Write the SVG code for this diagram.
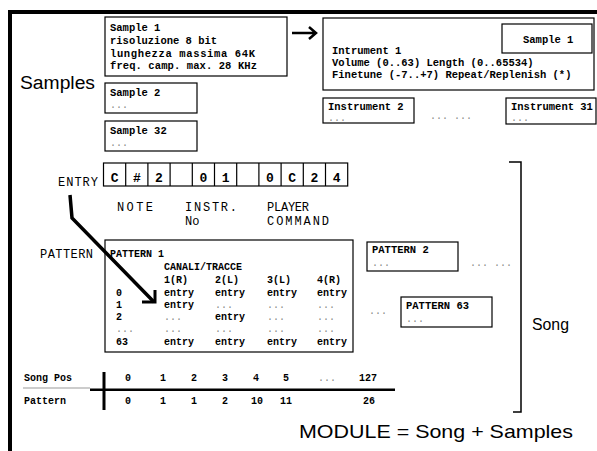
<svg xmlns="http://www.w3.org/2000/svg" width="597" height="451" viewBox="0 0 597 451">
<style>
.box{fill:none;stroke:#000;stroke-width:1.2}
.bt{font-family:"Liberation Mono",monospace;font-weight:bold;font-size:10.5px;fill:#000}
.pt{font-family:"Liberation Mono",monospace;font-weight:bold;font-size:10px;fill:#000}
.dt{font-family:"Liberation Mono",monospace;font-size:10px;fill:#888}
.lab{font-family:"Liberation Mono",monospace;font-size:12px;fill:#000}
.cell{font-family:"Liberation Mono",monospace;font-weight:bold;font-size:13px;fill:#000;text-anchor:middle}
.big{font-family:"Liberation Sans",Arial,sans-serif;fill:#000}
.num{font-family:"Liberation Mono",monospace;font-weight:bold;font-size:10px;fill:#000;text-anchor:middle}
</style>
<rect width="597" height="451" fill="#fff"/>
<g id="frame">
<rect x="9" y="10" width="588" height="4" fill="#000"/>
<rect x="8" y="10" width="4" height="441" fill="#000"/>
</g>
<text class="big" x="20" y="89" font-size="18" textLength="75" lengthAdjust="spacingAndGlyphs">Samples</text>
<g id="sample1">
<rect class="box" x="105" y="17" width="182" height="59"/>
<text class="bt" x="110" y="31">Sample 1</text>
<text class="bt" x="110" y="44">risoluzione 8 bit</text>
<text class="bt" x="110" y="57" textLength="145">lunghezza massima 64K</text>
<text class="bt" x="110" y="69" textLength="147">freq. camp. max. 28 KHz</text>
</g>
<g id="sample2">
<rect class="box" x="105" y="83" width="92" height="30"/>
<text class="bt" x="110" y="96">Sample 2</text>
<text class="dt" x="110" y="108">...</text>
</g>
<g id="sample32">
<rect class="box" x="105" y="121" width="92" height="30"/>
<text class="bt" x="110" y="134">Sample 32</text>
<text class="dt" x="110" y="146">...</text>
</g>
<g id="instrument1">
<rect class="box" x="323" y="18" width="271" height="72"/>
<rect class="box" x="502" y="24" width="90" height="29"/>
<text class="bt" x="523" y="43">Sample 1</text>
<text class="bt" x="332" y="54">Intrument 1</text>
<text class="bt" x="332" y="66">Volume (0..63) Length (0..65534)</text>
<text class="bt" x="332" y="78">Finetune (-7..+7) Repeat/Replenish (*)</text>
</g>
<g id="instrument2">
<rect class="box" x="323" y="98" width="91" height="25"/>
<text class="bt" x="328" y="110">Instrument 2</text>
<text class="dt" x="328" y="121">...</text>
</g>
<text class="dt" x="430" y="119">... ...</text>
<g id="instrument31">
<rect class="box" x="506" y="98" width="90" height="26"/>
<text class="bt" x="511" y="110">Instrument 31</text>
<text class="dt" x="511" y="121">...</text>
</g>
<g id="entry">
<text class="lab" x="58" y="186" textLength="40">ENTRY</text>
<g class="box">
<rect x="103.5" y="163" width="244.2" height="23"/>
<path d="M125.7 163V186M147.9 163V186M170.1 163V186M192.3 163V186M214.5 163V186M236.7 163V186M258.9 163V186M281.1 163V186M303.3 163V186M325.5 163V186"/>
</g>
<text class="cell" x="114.6" y="182">C</text>
<text class="cell" x="136.8" y="182">#</text>
<text class="cell" x="159" y="182">2</text>
<text class="cell" x="203.4" y="182">0</text>
<text class="cell" x="225.6" y="182">1</text>
<text class="cell" x="270" y="182">0</text>
<text class="cell" x="292.2" y="182">C</text>
<text class="cell" x="314.4" y="182">2</text>
<text class="cell" x="336.6" y="182">4</text>
<text class="lab" x="117" y="211" font-size="11" textLength="36">NOTE</text>
<text class="lab" x="185" y="211" font-size="11" textLength="52">INSTR.</text>
<text class="lab" x="185" y="225" font-size="11">No</text>
<text class="lab" x="267" y="211" font-size="11" textLength="42">PLAYER</text>
<text class="lab" x="267" y="225" font-size="11" textLength="62">COMMAND</text>
</g>
<text class="lab" x="40" y="258" textLength="53">PATTERN</text>
<g id="pattern1">
<rect class="box" x="105" y="240" width="248" height="112"/>
<text class="pt" x="110" y="257">PATTERN 1</text>
<text class="pt" x="164" y="270" textLength="78">CANALI/TRACCE</text>
<text class="pt" x="164" y="283">1(R)</text>
<text class="pt" x="215" y="283">2(L)</text>
<text class="pt" x="267" y="283">3(L)</text>
<text class="pt" x="317" y="283">4(R)</text>
<text class="pt" x="116" y="296">0</text>
<text class="pt" x="164" y="296">entry</text>
<text class="pt" x="215" y="296">entry</text>
<text class="pt" x="267" y="296">entry</text>
<text class="pt" x="317" y="296">entry</text>
<text class="pt" x="116" y="308">1</text>
<text class="pt" x="164" y="308">entry</text>
<text class="dt" x="215" y="308">...</text>
<text class="dt" x="267" y="308">...</text>
<text class="dt" x="317" y="308">...</text>
<text class="pt" x="116" y="320">2</text>
<text class="dt" x="164" y="320">...</text>
<text class="pt" x="215" y="320">entry</text>
<text class="dt" x="267" y="320">...</text>
<text class="dt" x="317" y="320">...</text>
<text class="dt" x="116" y="332">...</text>
<text class="dt" x="164" y="332">...</text>
<text class="dt" x="215" y="332">...</text>
<text class="dt" x="267" y="332">...</text>
<text class="dt" x="317" y="332">...</text>
<text class="pt" x="116" y="345">63</text>
<text class="pt" x="164" y="345">entry</text>
<text class="pt" x="215" y="345">entry</text>
<text class="pt" x="267" y="345">entry</text>
<text class="pt" x="317" y="345">entry</text>
</g>
<g id="pattern2">
<rect class="box" x="367" y="242" width="91" height="29"/>
<text class="bt" x="372" y="253">PATTERN 2</text>
<text class="dt" x="372" y="266">...</text>
</g>
<text class="dt" x="470" y="266">... ...</text>
<text class="dt" x="369" y="314">...</text>
<g id="pattern63">
<rect class="box" x="401" y="297" width="91" height="30"/>
<text class="bt" x="406" y="309">PATTERN 63</text>
<text class="dt" x="406" y="322">...</text>
</g>
<g id="songtable">
<text class="pt" x="24" y="381">Song Pos</text>
<text class="pt" x="24" y="404">Pattern</text>
<rect x="102.5" y="372" width="3" height="38" fill="#000"/>
<rect x="90" y="388.5" width="305" height="2.5" fill="#000"/>
<line x1="23" y1="388" x2="90" y2="388" stroke="#999" stroke-width="1"/>
<text class="num" x="128" y="381">0</text>
<text class="num" x="163" y="381">1</text>
<text class="num" x="194" y="381">2</text>
<text class="num" x="225" y="381">3</text>
<text class="num" x="256" y="381">4</text>
<text class="num" x="286" y="381">5</text>
<text class="dt" x="318" y="381">...</text>
<text class="num" x="368" y="381">127</text>
<text class="num" x="128" y="404">0</text>
<text class="num" x="163" y="404">1</text>
<text class="num" x="194" y="404">1</text>
<text class="num" x="225" y="404">2</text>
<text class="num" x="257" y="404">10</text>
<text class="num" x="286" y="404">11</text>
<text class="num" x="369" y="404">26</text>
</g>
<g id="song">
<path d="M509 162H521V412H513" fill="none" stroke="#000" stroke-width="1.5"/>
<text class="big" x="532" y="330" font-size="16" textLength="37" lengthAdjust="spacingAndGlyphs">Song</text>
</g>
<text class="big" x="299" y="438" font-size="19" textLength="274" lengthAdjust="spacingAndGlyphs">MODULE = Song + Samples</text>
<g id="connectors" fill="none" stroke="#000">
<path d="M292 33H315M309 27L316 33L309 39" stroke-width="2.5"/>
<path d="M70 195L72 218L154 302" stroke-width="3.5"/>
<path d="M142 302H155V290" stroke-width="3"/>
</g>
</svg>
